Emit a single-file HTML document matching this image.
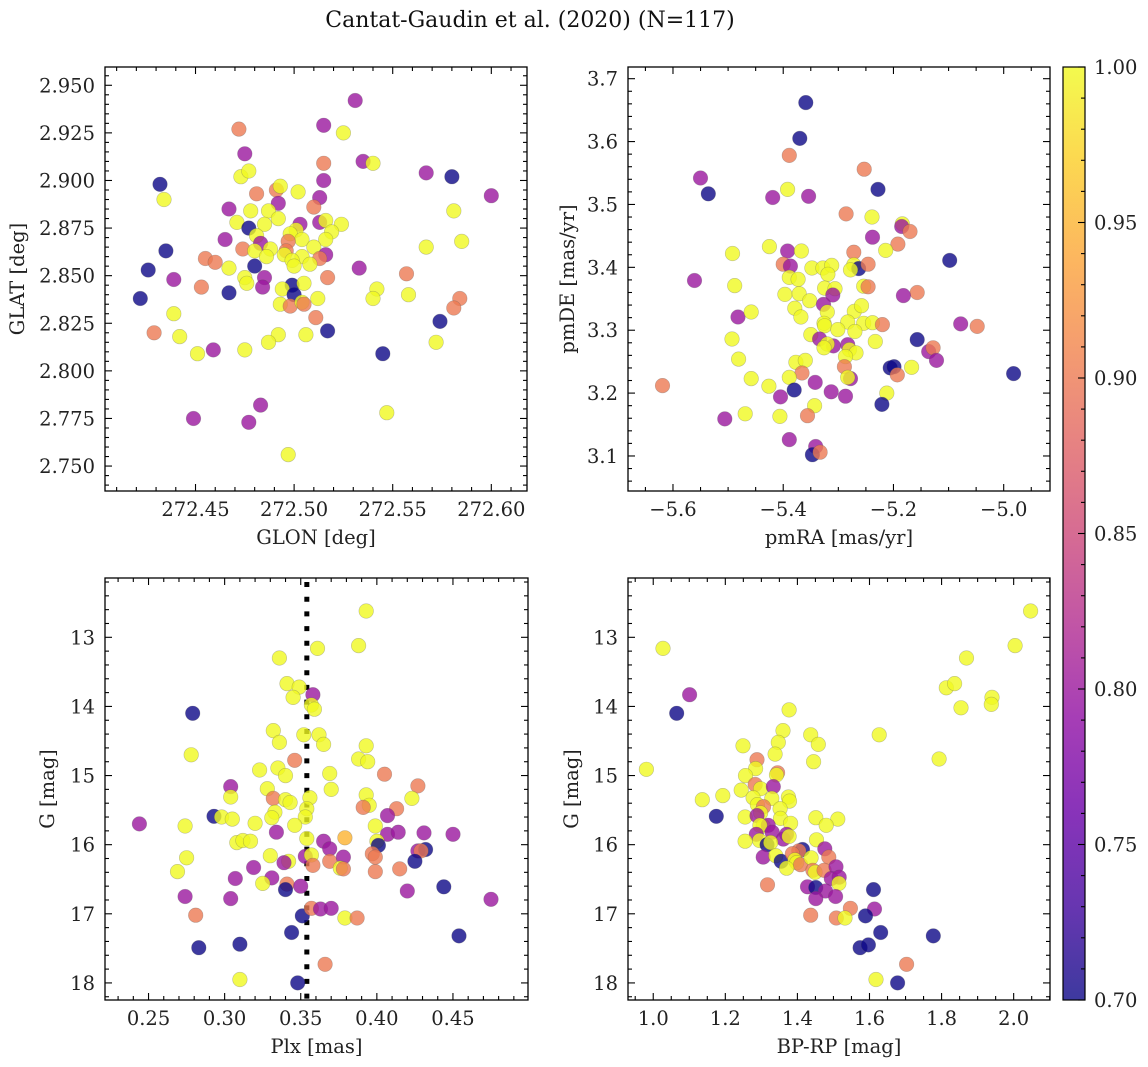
<!DOCTYPE html>
<html><head><meta charset="utf-8"><style>
html,body{margin:0;padding:0;background:#fff;}
svg{display:block;font-family:"DejaVu Serif","Liberation Serif",serif;}
</style></head><body>
<svg id="fig" width="1148" height="1067" viewBox="0 0 1148 1067" xmlns="http://www.w3.org/2000/svg">
<text x="530" y="27" text-anchor="middle" font-size="22" fill="#111">Cantat-Gaudin et al. (2020) (N=117)</text>
</svg>
<script>
// ---- Panel 1: GLON / GLAT ----
const p1Glon=[272.531,272.472,272.515,272.525,272.475,272.515,272.535,272.540,272.473,272.477,272.515,272.432,272.567,272.580,272.434,272.600,272.481,272.491,272.493,272.502,272.513,272.492,272.467,272.478,272.487,272.510,272.581,272.471,272.477,272.485,272.492,272.503,272.513,272.516,272.524,272.501,272.498,272.519,272.481,272.483,272.465,272.504,272.516,272.497,272.474,272.435,272.480,272.488,272.496,272.510,272.567,272.585,272.495,272.516,272.486,272.504,272.455,272.460,272.499,272.513,272.426,272.467,272.480,272.500,272.508,272.533,272.557,272.439,272.475,272.485,272.517,272.453,272.476,272.484,272.499,272.505,272.467,272.494,272.500,272.542,272.558,272.422,272.512,272.540,272.584,272.493,272.498,272.504,272.505,272.581,272.439,272.511,272.574,272.429,272.517,272.442,272.492,272.487,272.506,272.572,272.451,272.459,272.475,272.545,272.547,272.483,272.449,272.477,272.497];
const p1Glat=[2.942,2.927,2.929,2.925,2.914,2.909,2.910,2.909,2.902,2.905,2.900,2.898,2.904,2.902,2.890,2.892,2.893,2.895,2.897,2.894,2.891,2.888,2.885,2.884,2.884,2.886,2.884,2.878,2.875,2.877,2.880,2.877,2.878,2.879,2.877,2.874,2.872,2.873,2.871,2.867,2.869,2.869,2.869,2.868,2.864,2.863,2.863,2.864,2.863,2.865,2.865,2.868,2.861,2.861,2.860,2.860,2.859,2.857,2.858,2.859,2.853,2.854,2.855,2.855,2.856,2.854,2.851,2.848,2.849,2.849,2.849,2.844,2.846,2.844,2.845,2.846,2.841,2.843,2.840,2.843,2.840,2.838,2.838,2.838,2.838,2.835,2.834,2.836,2.835,2.833,2.830,2.828,2.826,2.820,2.821,2.818,2.819,2.815,2.819,2.815,2.809,2.811,2.811,2.809,2.778,2.782,2.775,2.773,2.756];
const p1Prob=[0.8,0.9,0.8,1,0.8,0.9,0.8,1,1,1,0.8,0.7,0.8,0.7,1,0.8,0.9,0.9,1,1,0.8,0.8,0.8,1,1,0.9,1,1,0.7,1,1,0.8,0.8,1,1,1,1,1,1,0.8,0.8,1,1,0.9,0.9,0.7,1,1,0.9,1,1,1,1,0.8,1,1,0.9,0.9,1,0.9,0.7,1,0.7,1,1,0.8,0.9,0.8,1,0.8,0.9,0.9,1,0.8,0.7,1,0.7,1,0.7,1,1,0.7,1,1,0.9,1,0.9,1,0.9,0.9,1,0.9,0.7,0.9,0.7,1,1,1,1,1,1,0.8,1,0.7,1,0.8,0.8,0.8,1];
// ---- Panel 2: pmRA / pmDE ----
const p2PmRA=[-5.359,-5.370,-5.389,-5.253,-5.550,-5.536,-5.392,-5.419,-5.354,-5.228,-5.286,-5.239,-5.184,-5.185,-5.170,-5.238,-5.192,-5.492,-5.425,-5.392,-5.367,-5.272,-5.214,-5.400,-5.387,-5.348,-5.328,-5.312,-5.319,-5.272,-5.263,-5.278,-5.246,-5.098,-5.561,-5.488,-5.389,-5.373,-5.325,-5.306,-5.310,-5.254,-5.246,-5.157,-5.182,-5.397,-5.371,-5.352,-5.327,-5.379,-5.320,-5.271,-5.258,-5.482,-5.458,-5.368,-5.326,-5.325,-5.283,-5.254,-5.238,-5.220,-5.078,-5.048,-5.493,-5.350,-5.301,-5.270,-5.334,-5.309,-5.320,-5.326,-5.283,-5.233,-5.157,-5.136,-5.128,-5.122,-5.481,-5.280,-5.268,-5.287,-5.377,-5.360,-5.206,-5.199,-5.167,-5.289,-5.193,-4.982,-5.366,-5.458,-5.389,-5.278,-5.283,-5.342,-5.619,-5.426,-5.380,-5.313,-5.405,-5.287,-5.212,-5.343,-5.221,-5.469,-5.406,-5.356,-5.506,-5.389,-5.341,-5.347,-5.333];
const p2PmDE=[3.662,3.605,3.578,3.556,3.542,3.517,3.524,3.511,3.513,3.524,3.485,3.480,3.469,3.465,3.457,3.448,3.437,3.422,3.433,3.426,3.426,3.424,3.427,3.405,3.402,3.399,3.399,3.403,3.389,3.404,3.398,3.396,3.405,3.411,3.379,3.371,3.384,3.381,3.367,3.366,3.356,3.370,3.369,3.360,3.355,3.357,3.358,3.347,3.341,3.335,3.329,3.330,3.339,3.321,3.329,3.321,3.311,3.307,3.313,3.311,3.312,3.309,3.310,3.306,3.286,3.293,3.301,3.298,3.286,3.275,3.278,3.272,3.277,3.282,3.285,3.266,3.272,3.252,3.254,3.269,3.264,3.258,3.249,3.252,3.240,3.242,3.241,3.242,3.229,3.231,3.232,3.223,3.225,3.223,3.225,3.217,3.212,3.211,3.205,3.202,3.194,3.195,3.200,3.180,3.182,3.167,3.163,3.164,3.159,3.126,3.115,3.102,3.106];
const p2Prob=[0.7,0.7,0.9,0.9,0.8,0.7,1,0.8,0.8,0.7,0.9,1,1,0.8,0.9,0.8,0.9,1,1,0.8,1,0.9,1,0.9,0.8,1,1,1,1,1,0.7,1,0.9,0.7,0.8,1,1,1,1,1,0.8,1,0.9,0.9,0.8,1,1,1,0.8,1,1,1,1,0.8,1,1,1,1,1,1,1,0.9,0.8,0.9,1,1,1,1,0.8,0.8,1,1,0.8,1,0.7,0.8,0.9,0.8,1,1,1,1,1,1,0.7,0.7,1,0.9,0.9,0.7,0.9,1,1,0.8,1,0.8,0.9,1,0.7,0.8,0.8,0.8,1,1,0.7,1,1,0.9,0.8,0.8,0.8,0.7,0.9];
// ---- Panel 3: Plx / G ----
const p3Plx=[0.393,0.388,0.361,0.336,0.341,0.349,0.345,0.358,0.357,0.359,0.279,0.332,0.352,0.362,0.336,0.365,0.393,0.278,0.388,0.394,0.346,0.323,0.335,0.340,0.369,0.405,0.427,0.304,0.328,0.370,0.304,0.332,0.340,0.343,0.356,0.393,0.395,0.391,0.423,0.413,0.333,0.331,0.354,0.353,0.293,0.298,0.305,0.407,0.244,0.274,0.320,0.346,0.399,0.334,0.407,0.414,0.431,0.450,0.308,0.312,0.317,0.354,0.365,0.379,0.369,0.400,0.401,0.275,0.330,0.342,0.339,0.353,0.357,0.358,0.369,0.378,0.376,0.378,0.397,0.399,0.399,0.415,0.427,0.432,0.429,0.425,0.269,0.319,0.307,0.331,0.325,0.341,0.340,0.350,0.420,0.444,0.274,0.304,0.475,0.281,0.351,0.357,0.363,0.370,0.379,0.387,0.344,0.454,0.283,0.310,0.366,0.310,0.348];
const p3G=[12.62,13.12,13.16,13.30,13.67,13.72,13.87,13.83,13.98,14.04,14.10,14.35,14.41,14.41,14.52,14.55,14.57,14.70,14.76,14.80,14.78,14.92,14.89,15.00,14.97,14.98,15.15,15.16,15.19,15.20,15.31,15.33,15.35,15.39,15.32,15.28,15.43,15.46,15.33,15.48,15.53,15.61,15.48,15.60,15.59,15.60,15.63,15.58,15.70,15.73,15.69,15.72,15.73,15.82,15.85,15.82,15.83,15.85,15.97,15.94,15.95,15.91,15.95,15.90,16.06,15.95,16.01,16.19,16.16,16.24,16.26,16.17,16.15,16.30,16.24,16.18,16.34,16.35,16.13,16.18,16.39,16.35,16.09,16.07,16.09,16.24,16.39,16.33,16.49,16.48,16.56,16.57,16.65,16.60,16.67,16.61,16.75,16.78,16.79,17.02,17.03,16.92,16.93,16.92,17.06,17.06,17.27,17.32,17.49,17.44,17.73,17.95,18.00];
const p3Prob=[1,1,1,1,1,1,1,0.8,1,1,0.7,1,1,1,1,1,1,1,1,1,0.9,1,1,1,1,0.9,0.9,0.8,1,1,1,0.9,1,1,1,1,1,0.9,1,0.9,1,1,1,1,0.7,1,1,0.8,0.8,1,1,1,1,0.8,0.8,0.8,0.8,0.8,1,1,1,1,0.8,0.95,0.8,1,0.7,1,1,1,0.8,0.8,1,0.9,0.9,0.8,1,0.9,0.9,0.9,0.9,0.9,0.8,0.7,0.9,0.7,1,0.8,0.8,0.8,1,0.9,0.7,0.8,0.8,0.7,0.8,0.8,0.8,0.9,0.7,0.9,0.8,0.8,1,0.9,0.7,0.7,0.7,0.7,0.9,1,0.7];
const plxMean=0.354;
// ---- Panel 4: BP-RP / G ----
const p4BpRp=[2.047,2.004,1.027,1.869,1.813,1.836,1.940,1.938,1.854,1.101,1.065,1.377,1.360,1.437,1.458,1.627,1.347,1.249,1.338,1.445,1.793,1.288,1.284,0.981,1.345,1.342,1.256,1.283,1.298,1.333,1.244,1.193,1.136,1.277,1.329,1.375,1.378,1.289,1.306,1.352,1.298,1.175,1.255,1.288,1.353,1.451,1.512,1.381,1.480,1.305,1.319,1.296,1.286,1.330,1.361,1.370,1.377,1.255,1.295,1.316,1.326,1.453,1.414,1.404,1.476,1.305,1.340,1.355,1.386,1.393,1.398,1.409,1.370,1.438,1.487,1.443,1.449,1.474,1.507,1.494,1.516,1.515,1.317,1.428,1.451,1.478,1.451,1.506,1.611,1.547,1.614,1.437,1.508,1.532,1.589,1.631,1.777,1.574,1.597,1.703,1.618,1.678];
const p4G=[12.62,13.12,13.16,13.30,13.73,13.67,13.87,13.97,14.02,13.83,14.10,14.05,14.35,14.41,14.55,14.41,14.52,14.57,14.69,14.80,14.76,14.77,14.90,14.91,14.96,14.99,15.00,15.13,15.19,15.16,15.21,15.29,15.35,15.32,15.33,15.31,15.37,15.42,15.45,15.48,15.54,15.59,15.60,15.58,15.62,15.61,15.63,15.69,15.72,15.73,15.72,15.72,15.85,15.82,15.92,15.85,15.88,15.95,15.94,16.00,15.97,15.93,16.07,16.09,16.06,16.18,16.16,16.24,16.13,16.22,16.26,16.29,16.34,16.19,16.18,16.37,16.40,16.37,16.32,16.49,16.47,16.56,16.58,16.61,16.62,16.67,16.78,16.75,16.65,16.92,16.93,17.02,17.06,17.06,17.03,17.27,17.32,17.49,17.45,17.73,17.95,18.00];
const p4Prob=[1,1,1,1,1,1,1,1,1,0.8,0.7,1,1,1,1,1,1,1,1,1,1,0.9,1,1,0.9,1,1,0.9,1,0.8,1,1,1,1,1,1,1,1,0.9,1,1,0.7,1,0.8,1,1,1,1,1,1,0.8,1,0.8,0.8,0.8,0.8,1,1,1,0.7,1,1,0.7,0.9,0.8,0.8,1,0.7,0.9,1,1,0.9,1,1,0.9,0.9,1,0.9,0.8,0.8,0.8,1,0.9,0.8,0.7,0.8,0.8,0.8,0.7,0.9,0.8,0.9,0.9,1,0.7,0.7,0.7,0.7,0.7,0.9,1,0.7];
// ---- tick labels ----
const p1XTicks=[272.45,272.50,272.55,272.60];
const p1YTicks=[2.750,2.775,2.800,2.825,2.850,2.875,2.900,2.925,2.950];
const p2XTicks=[-5.6,-5.4,-5.2,-5.0];
const p2YTicks=[3.1,3.2,3.3,3.4,3.5,3.6,3.7];
const p3XTicks=[0.25,0.30,0.35,0.40,0.45];
const gTicks=[13,14,15,16,17,18];
const p4XTicks=[1.0,1.2,1.4,1.6,1.8,2.0];
const cbTicks=[0.70,0.75,0.80,0.85,0.90,0.95,1.00];

const NS="http://www.w3.org/2000/svg";
const svg=document.getElementById('fig');
const FS=19.5;
function mk(tag,attrs,parent){const e=document.createElementNS(NS,tag);for(const k in attrs)e.setAttribute(k,attrs[k]);(parent||svg).appendChild(e);return e;}
const stops=[[13,8,135],[65,4,157],[106,0,168],[143,13,164],[177,42,144],[204,71,120],[225,100,98],[242,132,75],[252,166,54],[252,206,37],[240,249,33]];
function plasma(t){t=Math.max(0,Math.min(1,t));const f=t*10,i=Math.min(9,Math.floor(f)),u=f-i;const a=stops[i],b=stops[i+1];return 'rgb('+[0,1,2].map(k=>Math.round(a[k]+(b[k]-a[k])*u)).join(',')+')';}
function cmap(v){return plasma((v-0.7)/0.3);}
function fmt(v,d){return (v<0?'\u2212':'')+Math.abs(v).toFixed(d);}

function panel(cfg){
  const g=mk('g',{});
  
  
  const sx=v=>cfg.x0+(v-cfg.xd[0])/(cfg.xd[1]-cfg.xd[0])*(cfg.x1-cfg.x0);
  const sy=cfg.yinv? v=>cfg.y0+(v-cfg.yd[0])/(cfg.yd[1]-cfg.yd[0])*(cfg.y1-cfg.y0)
                    : v=>cfg.y1-(v-cfg.yd[0])/(cfg.yd[1]-cfg.yd[0])*(cfg.y1-cfg.y0);
  if(cfg.vline!==undefined){
    const l=mk('line',{x1:sx(cfg.vline),x2:sx(cfg.vline),y1:cfg.y0+4,y2:cfg.y1,stroke:'#000','stroke-width':5,'stroke-dasharray':'5 9.7'},g);
    
    
  }
  const pts=mk('g',{},g);
  
  
  for(let i=0;i<cfg.xs.length;i++){
    const c=mk('circle',{cx:sx(cfg.xs[i]).toFixed(1),cy:sy(cfg.ys[i]).toFixed(1),r:7.3,fill:cmap(cfg.cs[i]),'fill-opacity':0.8,stroke:'#555','stroke-opacity':0.35,'stroke-width':0.6},pts);
    
    
  }
  mk('rect',{x:cfg.x0,y:cfg.y0,width:cfg.x1-cfg.x0,height:cfg.y1-cfg.y0,fill:'none',stroke:'#000','stroke-width':1.3},g);
  const xlo=Math.min(...cfg.xd),xhi=Math.max(...cfg.xd);
  for(let v=Math.ceil(xlo/cfg.xmin-1e-6)*cfg.xmin;v<=xhi+1e-9;v+=cfg.xmin){
    const X=sx(v),major=cfg.xt.some(t=>Math.abs(t-v)<cfg.xmin/10);const L=major?7:4;
    mk('line',{x1:X,x2:X,y1:cfg.y1,y2:cfg.y1-L,stroke:'#000','stroke-width':1.1},g);
    mk('line',{x1:X,x2:X,y1:cfg.y0,y2:cfg.y0+L,stroke:'#000','stroke-width':1.1},g);
  }
  cfg.xt.forEach(v=>{const t=mk('text',{x:sx(v),y:cfg.y1+25,'text-anchor':'middle','font-size':FS,fill:'#222'},g);t.textContent=fmt(v,cfg.xdec);
    
    });
  const ylo=Math.min(...cfg.yd),yhi=Math.max(...cfg.yd);
  for(let v=Math.ceil(ylo/cfg.ymin-1e-6)*cfg.ymin;v<=yhi+1e-9;v+=cfg.ymin){
    const Y=sy(v),major=cfg.yt.some(t=>Math.abs(t-v)<cfg.ymin/10);const L=major?7:4;
    mk('line',{x1:cfg.x0,x2:cfg.x0+L,y1:Y,y2:Y,stroke:'#000','stroke-width':1.1},g);
    mk('line',{x1:cfg.x1,x2:cfg.x1-L,y1:Y,y2:Y,stroke:'#000','stroke-width':1.1},g);
  }
  cfg.yt.forEach(v=>{const t=mk('text',{x:cfg.x0-10,y:sy(v)+7,'text-anchor':'end','font-size':FS,fill:'#222'},g);t.textContent=fmt(v,cfg.ydec);
    
    });
  const xl=mk('text',{x:(cfg.x0+cfg.x1)/2,y:cfg.y1+53,'text-anchor':'middle','font-size':FS,fill:'#222'},g);xl.textContent=cfg.xlabel;
  
  
  const yx=cfg.ylx,yy=(cfg.y0+cfg.y1)/2;
  const yl=mk('text',{x:yx,y:yy,'text-anchor':'middle','font-size':FS,fill:'#222',transform:'rotate(-90 '+yx+' '+yy+')'},g);yl.textContent=cfg.ylabel;
  
  
}

panel({name:'glon-glat-panel',x0:105,x1:527,y0:67,y1:491,xd:[272.4041,272.6181],yd:[2.7369,2.9596],xs:p1Glon,ys:p1Glat,cs:p1Prob,xt:p1XTicks,yt:p1YTicks,xmin:0.01,ymin:0.005,xdec:2,ydec:3,xlabel:'GLON [deg]',ylabel:'GLAT [deg]',ylx:24});
panel({name:'proper-motion-panel',x0:628,x1:1050,y0:67,y1:491,xd:[-5.6816,-4.916],yd:[3.0443,3.7186],xs:p2PmRA,ys:p2PmDE,cs:p2Prob,xt:p2XTicks,yt:p2YTicks,xmin:0.05,ymin:0.02,xdec:1,ydec:1,xlabel:'pmRA [mas/yr]',ylabel:'pmDE [mas/yr]',ylx:574});
panel({name:'parallax-mag-panel',x0:105,x1:528,y0:578,y1:1000,xd:[0.2214,0.4993],yd:[12.142,18.247],yinv:true,xs:p3Plx,ys:p3G,cs:p3Prob,xt:p3XTicks,yt:gTicks,xmin:0.01,ymin:0.2,xdec:2,ydec:0,xlabel:'Plx [mas]',ylabel:'G [mag]',ylx:54,vline:plxMean});
panel({name:'cmd-panel',x0:628,x1:1050,y0:578,y1:1000,xd:[0.930,2.1008],yd:[12.142,18.247],yinv:true,xs:p4BpRp,ys:p4G,cs:p4Prob,xt:p4XTicks,yt:gTicks,xmin:0.05,ymin:0.2,xdec:1,ydec:0,xlabel:'BP-RP [mag]',ylabel:'G [mag]',ylx:578});

(function(){
  const cb=mk('g',{});
  
  
  const defs=mk('defs',{},cb);
  const lg=mk('linearGradient',{id:'cbg',x1:0,y1:1,x2:0,y2:0},defs);
  stops.forEach((s,i)=>mk('stop',{offset:i/10,'stop-color':'rgb('+s.join(',')+')'},lg));
  const x0=1063,x1=1085,y0=67,y1=1000;
  mk('rect',{x:x0,y:y0,width:x1-x0,height:y1-y0,fill:'url(#cbg)','fill-opacity':0.8},cb);
  mk('rect',{x:x0,y:y0,width:x1-x0,height:y1-y0,fill:'none',stroke:'#000','stroke-width':1.2},cb);
  const sy=v=>y1-(v-0.7)/0.3*(y1-y0);
  for(let k=0;k<=30;k++){const v=0.7+k*0.01,Y=sy(v),major=k%5===0;
    mk('line',{x1:x1,x2:x1-(major?7:4),y1:Y,y2:Y,stroke:'#000','stroke-width':1.1},cb);}
  cbTicks.forEach(v=>{const t=mk('text',{x:1094,y:sy(v)+7,'font-size':FS,fill:'#222'},cb);t.textContent=v.toFixed(2);
    
    });
})();
</script>
</body></html>
